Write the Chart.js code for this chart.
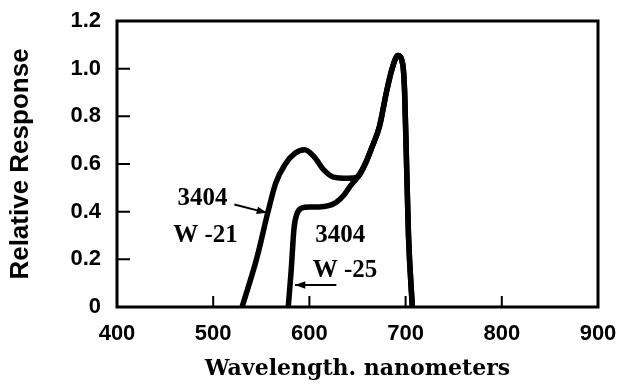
<!DOCTYPE html>
<html>
<head>
<meta charset="utf-8">
<script src="https://cdn.jsdelivr.net/npm/chart.js@4.4.0/dist/chart.umd.min.js"></script>
<style>
  html, body { margin: 0; padding: 0; background: #fff; }
  #wrap { width: 617px; height: 387px; }
</style>
</head>
<body>
<div id="wrap"><canvas id="chart"></canvas></div>
<script>
// Wavelength (nm) and relative response for each filter
const wl21 = [530, 545, 557, 565, 575, 585, 595, 605, 615, 625, 640, 650, 658, 665, 673, 680, 686, 692, 697, 699, 701, 703, 707];
const resp21 = [0, 0.2, 0.4, 0.52, 0.6, 0.645, 0.66, 0.63, 0.575, 0.545, 0.54, 0.545, 0.6, 0.67, 0.76, 0.9, 1.0, 1.055, 1.02, 0.9, 0.6, 0.3, 0];

const wl25 = [578, 581, 584, 587, 592, 600, 610, 620, 628, 636, 643, 650, 658, 665, 673, 680, 686, 692, 697, 699, 701, 703, 707];
const resp25 = [0, 0.15, 0.33, 0.39, 0.415, 0.42, 0.42, 0.425, 0.44, 0.47, 0.51, 0.545, 0.6, 0.67, 0.76, 0.9, 1.0, 1.055, 1.02, 0.9, 0.6, 0.3, 0];

const xTicks = [400, 500, 600, 700, 800, 900];
const yTicks = [0, 0.2, 0.4, 0.6, 0.8, 1.0, 1.2];

const toPoints = (xs, ys) => xs.map((x, i) => ({ x: x, y: ys[i] }));

// Curve labels, with leader arrows (data coordinates)
const curveLabels = [
    { lines: ['3404', 'W -21'], at: [[489, 0.454], [492, 0.30]], arrow: [[522, 0.43], [556, 0.395]] },
    { lines: ['3404', 'W -25'], at: [[632, 0.30], [637, 0.155]], arrow: [[628, 0.092], [585, 0.092]] }
];

// frame, inside tick marks and curve labels
const decorations = {
    id: 'decorations',
    afterDraw(chart) {
        const ctx = chart.ctx;
        const a = chart.chartArea;
        const xs = chart.scales.x;
        const ys = chart.scales.y;
        ctx.save();
        ctx.strokeStyle = '#000';
        ctx.lineWidth = 3;
        ctx.strokeRect(a.left, a.top, a.right - a.left, a.bottom - a.top);

        ctx.lineWidth = 2;
        ctx.beginPath();
        yTicks.slice(1, -1).forEach(v => {
            const py = ys.getPixelForValue(v);
            ctx.moveTo(a.left, py);
            ctx.lineTo(a.left + 13, py);
        });
        xTicks.slice(1, -1).forEach(v => {
            const px = xs.getPixelForValue(v);
            ctx.moveTo(px, a.bottom);
            ctx.lineTo(px, a.bottom - 11);
        });
        ctx.stroke();

        ctx.fillStyle = '#000';
        ctx.font = 'bold 25px "Liberation Serif"';
        ctx.textAlign = 'center';
        ctx.textBaseline = 'middle';
        curveLabels.forEach(lbl => {
            lbl.lines.forEach((t, i) => {
                ctx.fillText(t, xs.getPixelForValue(lbl.at[i][0]), ys.getPixelForValue(lbl.at[i][1]));
            });
            const x0 = xs.getPixelForValue(lbl.arrow[0][0]);
            const y0 = ys.getPixelForValue(lbl.arrow[0][1]);
            const x1 = xs.getPixelForValue(lbl.arrow[1][0]);
            const y1 = ys.getPixelForValue(lbl.arrow[1][1]);
            ctx.lineWidth = 2;
            ctx.beginPath();
            ctx.moveTo(x0, y0);
            ctx.lineTo(x1, y1);
            ctx.stroke();
            const ang = Math.atan2(y1 - y0, x1 - x0);
            ctx.beginPath();
            ctx.moveTo(x1, y1);
            ctx.lineTo(x1 - 11 * Math.cos(ang - 0.35), y1 - 11 * Math.sin(ang - 0.35));
            ctx.lineTo(x1 - 11 * Math.cos(ang + 0.35), y1 - 11 * Math.sin(ang + 0.35));
            ctx.closePath();
            ctx.fill();
        });
        ctx.restore();
    }
};

const lineStyle = {
    borderColor: '#000',
    borderWidth: 5.5,
    pointRadius: 0,
    fill: false,
    cubicInterpolationMode: 'monotone',
    borderCapStyle: 'round',
    borderJoinStyle: 'round'
};

new Chart(document.getElementById('chart'), {
    type: 'line',
    data: {
        datasets: [
            Object.assign({ label: '3404 W-21', data: toPoints(wl21, resp21) }, lineStyle),
            Object.assign({ label: '3404 W-25', data: toPoints(wl25, resp25) }, lineStyle)
        ]
    },
    options: {
        responsive: true,
        maintainAspectRatio: false,
        animation: false,
        layout: { padding: { left: 0, top: 21, right: 19, bottom: 0 } },
        plugins: {
            legend: { display: false },
            tooltip: { enabled: false }
        },
        scales: {
            x: {
                type: 'linear',
                min: 400,
                max: 900,
                afterBuildTicks: s => { s.ticks = xTicks.map(v => ({ value: v })); },
                afterFit: s => { s.height = 80; s.paddingLeft = 0; s.paddingRight = 0; },
                border: { display: false },
                grid: { display: false, drawTicks: false },
                ticks: {
                    color: '#000',
                    padding: 14,
                    font: { family: '"Liberation Sans"', weight: 'bold', size: 22 }
                },
                title: {
                    display: true,
                    text: 'Wavelength. nanometers',
                    color: '#000',
                    padding: { top: 0, bottom: 5 },
                    font: { family: '"DejaVu Serif"', weight: 'bold', size: 22 }
                }
            },
            y: {
                min: 0,
                max: 1.2,
                afterBuildTicks: s => { s.ticks = yTicks.map(v => ({ value: v })); },
                afterFit: s => { s.width = 117; s.paddingTop = 0; s.paddingBottom = 0; },
                border: { display: false },
                grid: { display: false, drawTicks: false },
                ticks: {
                    color: '#000',
                    padding: 16,
                    font: { family: '"Liberation Sans"', weight: 'bold', size: 22 },
                    callback: v => v === 0 ? '0' : v.toFixed(1)
                },
                title: {
                    display: true,
                    text: 'Relative Response',
                    color: '#000',
                    padding: { top: 5, bottom: 0 },
                    font: { family: '"Liberation Sans"', weight: 'bold', size: 26 }
                }
            }
        }
    },
    plugins: [decorations]
});
</script>
</body>
</html>
